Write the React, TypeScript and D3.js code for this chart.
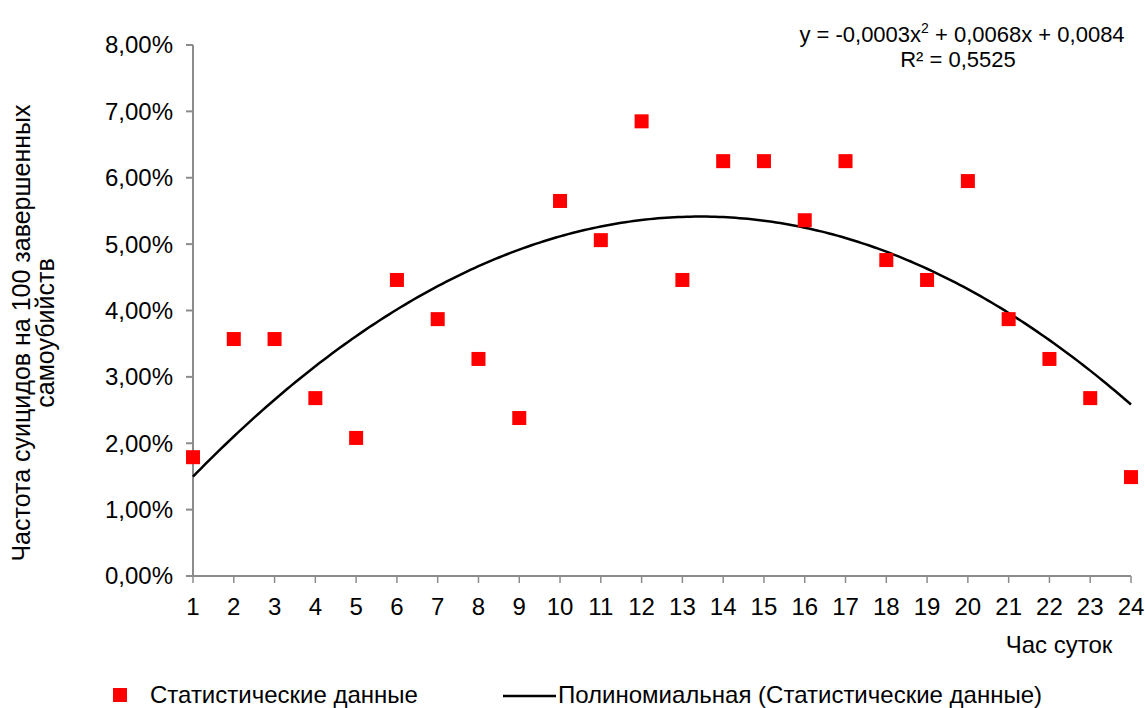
import * as d3 from "d3";
import React from "react";

// hours of day
const hours = [1, 2, 3, 4, 5, 6, 7, 8, 9, 10, 11, 12, 13, 14, 15, 16, 17, 18, 19, 20, 21, 22, 23, 24];
// share of suicides per hour, fraction
const rates = [
  0.0179, 0.0357, 0.0357, 0.0268, 0.0208, 0.0446, 0.0387, 0.0327, 0.0238, 0.0565, 0.0506, 0.0685,
  0.0446, 0.0625, 0.0625, 0.0536, 0.0625, 0.0476, 0.0446, 0.0595, 0.0387, 0.0327, 0.0268, 0.0149,
];
const yTicks = [0, 0.01, 0.02, 0.03, 0.04, 0.05, 0.06, 0.07, 0.08];

const FONT = "'Liberation Sans', Arial, sans-serif";

// quadratic least squares fit, as the spreadsheet trendline does
function quadFit(xs: number[], ys: number[]) {
  const S = (f: (x: number, y: number) => number) => d3.sum(xs, (x, i) => f(x, ys[i]));
  const n = xs.length;
  const s1 = S((x) => x), s2 = S((x) => x * x), s3 = S((x) => x ** 3), s4 = S((x) => x ** 4);
  const t0 = S((_, y) => y), t1 = S((x, y) => x * y), t2 = S((x, y) => x * x * y);
  const M = [
    [s4, s3, s2, t2],
    [s3, s2, s1, t1],
    [s2, s1, n, t0],
  ];
  for (let i = 0; i < 3; i++) {
    for (let j = i + 1; j < 3; j++) {
      const f = M[j][i] / M[i][i];
      for (let k = i; k < 4; k++) M[j][k] -= f * M[i][k];
    }
  }
  const c = M[2][3] / M[2][2];
  const b = (M[1][3] - M[1][2] * c) / M[1][1];
  const a = (M[0][3] - M[0][2] * c - M[0][1] * b) / M[0][0];
  return (x: number) => a * x * x + b * x + c;
}

export default function App() {
  const width = 1145;
  const height = 708;
  const x = d3.scaleLinear().domain([1, 24]).range([193, 1131]);
  const y = d3.scaleLinear().domain([0, 0.08]).range([576, 45]);
  const fit = quadFit(hours, rates);
  const curveXs = d3.range(1, 24.001, 0.1);
  const line = d3
    .line<number>()
    .x((d) => x(d))
    .y((d) => y(fit(d)));
  const fmt = (v: number) => (v * 100).toFixed(2).replace(".", ",") + "%";
  const axisColor = "#8c8c8c";

  return (
    <svg
      width={width}
      height={height}
      style={{ position: "absolute", left: 0, top: 0, background: "#fff" }}
      fontFamily={FONT}
    >
      {/* y axis */}
      <line x1={x(1)} x2={x(1)} y1={y(0.08)} y2={y(0)} stroke={axisColor} strokeWidth={2} />
      {yTicks.map((t) => (
        <g key={t}>
          <line x1={x(1) - 7} x2={x(1)} y1={y(t)} y2={y(t)} stroke={axisColor} strokeWidth={2} />
          <text x={173} y={y(t)} dy="0.35em" textAnchor="end" fontSize={24} fill="#000">
            {fmt(t)}
          </text>
        </g>
      ))}
      {/* x axis */}
      <line x1={x(1)} x2={x(24)} y1={y(0)} y2={y(0)} stroke={axisColor} strokeWidth={2} />
      {hours.map((h) => (
        <g key={h}>
          <line x1={x(h)} x2={x(h)} y1={y(0)} y2={y(0) + 7} stroke={axisColor} strokeWidth={1.5} />
          <text x={x(h)} y={615} textAnchor="middle" fontSize={24} fill="#000">
            {h}
          </text>
        </g>
      ))}
      <text x={1059} y={653} textAnchor="middle" fontSize={24} fill="#000">
        Час суток
      </text>
      {/* y label */}
      <g transform="translate(33,333) rotate(-90)">
        <text x={0} y={-3} textAnchor="middle" fontSize={25} fill="#000">
          Частота суицидов на 100 завершенных
        </text>
        <text x={0} y={21} textAnchor="middle" fontSize={25} fill="#000">
          самоубийств
        </text>
      </g>
      {/* trend line */}
      <path d={line(curveXs) ?? ""} fill="none" stroke="#000" strokeWidth={2.5} />
      {/* points */}
      {hours.map((h, i) => (
        <rect key={h} x={x(h) - 7} y={y(rates[i]) - 7} width={14} height={14} fill="#ff0000" />
      ))}
      {/* equation */}
      <text x={962} y={42} textAnchor="middle" fontSize={22} fill="#000">
        y = -0,0003x<tspan dy={-9} fontSize={14}>2</tspan>
        <tspan dy={9}> + 0,0068x + 0,0084</tspan>
      </text>
      <text x={958} y={67} textAnchor="middle" fontSize={22} fill="#000">
        R² = 0,5525
      </text>
      {/* legend */}
      <rect x={113} y={688} width={14} height={14} fill="#ff0000" />
      <text x={150} y={703} fontSize={24} fill="#000">
        Статистические данные
      </text>
      <line x1={503} x2={556} y1={696} y2={696} stroke="#000" strokeWidth={2.5} />
      <text x={558} y={703} fontSize={24} fill="#000">
        Полиномиальная (Статистические данные)
      </text>
    </svg>
  );
}
